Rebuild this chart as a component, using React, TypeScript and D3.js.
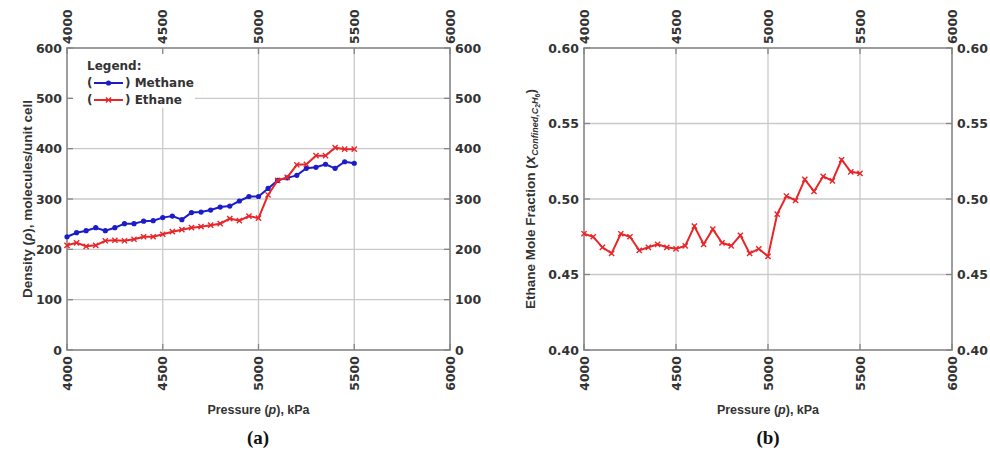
import React from 'react';
import * as d3 from 'd3';

// pressure steps, kPa
const pressure = [
  4000, 4050, 4100, 4150, 4200, 4250, 4300, 4350, 4400, 4450,
  4500, 4550, 4600, 4650, 4700, 4750, 4800, 4850, 4900, 4950,
  5000, 5050, 5100, 5150, 5200, 5250, 5300, 5350, 5400, 5450, 5500,
];

// molecules / unit cell
const methaneDensity = [
  225, 233, 237, 243, 237, 243, 251, 251, 256, 257,
  263, 266, 259, 273, 274, 278, 284, 286, 296, 305,
  305, 321, 337, 342, 347, 361, 363, 369, 361, 374, 371,
];
const ethaneDensity = [
  208, 213, 206, 208, 217, 218, 217, 220, 225, 225,
  230, 235, 239, 243, 245, 248, 251, 261, 257, 266,
  262, 308, 337, 343, 368, 369, 386, 386, 402, 399, 399,
];

// ethane mole fraction in the confined phase
const ethaneFraction = [
  0.477, 0.475, 0.468, 0.464, 0.477, 0.475, 0.466, 0.468, 0.470, 0.468,
  0.467, 0.469, 0.482, 0.470, 0.480, 0.471, 0.469, 0.476, 0.464, 0.467,
  0.462, 0.490, 0.502, 0.499, 0.513, 0.505, 0.515, 0.512, 0.526, 0.518, 0.517,
];

const xTicks = [4000, 4500, 5000, 5500, 6000];
const densityTicks = [0, 100, 200, 300, 400, 500, 600];
const fractionTicks = [0.4, 0.45, 0.5, 0.55, 0.6];

const BLUE = '#1c1cc8';
const RED = '#e8262a';
const TICK_FONT = '"DejaVu Sans", sans-serif';
const TITLE_FONT = '"Liberation Sans", Arial, sans-serif';
const TXT = '#333';

const top = 48;
const bottom = 350;

type Series = { values: number[]; color: string; marker: 'dot' | 'x' };

const Marker = ({ kind, x, y, color }: { kind: 'dot' | 'x'; x: number; y: number; color: string }) =>
  kind === 'dot' ? (
    <circle cx={x} cy={y} r={2.6} fill={color} />
  ) : (
    <path
      d={`M${x - 2.6},${y - 2.6}L${x + 2.6},${y + 2.6}M${x - 2.6},${y + 2.6}L${x + 2.6},${y - 2.6}`}
      stroke={color}
      strokeWidth={1.4}
    />
  );

const Panel = ({
  left, right, yDomain, yTicks, yFmt, series, legend,
}: {
  left: number; right: number; yDomain: [number, number]; yTicks: number[];
  yFmt: (v: number) => string; series: Series[]; legend?: boolean;
}) => {
  const x = d3.scaleLinear().domain([4000, 6000]).range([left, right]);
  const y = d3.scaleLinear().domain(yDomain).range([bottom, top]);
  const line = d3.line<number>().x((_, i) => x(pressure[i])).y((d) => y(d));
  const tickLen = 6;

  return (
    <g>
      {/* grid */}
      {xTicks.slice(1, -1).map((t) => (
        <line key={'gx' + t} x1={x(t)} x2={x(t)} y1={top} y2={bottom} stroke="#c9c9c9" strokeWidth={1.3} />
      ))}
      {yTicks.slice(1, -1).map((t) => (
        <line key={'gy' + t} x1={left} x2={right} y1={y(t)} y2={y(t)} stroke="#c9c9c9" strokeWidth={1.3} />
      ))}

      {legend && <rect x={72} y={top + 1} width={123} height={59} fill="#fff" />}

      {/* frame + inward ticks */}
      <rect x={left} y={top} width={right - left} height={bottom - top} fill="none" stroke="#858585" strokeWidth={1.6} />
      {xTicks.map((t) => (
        <g key={'tx' + t}>
          <line x1={x(t)} x2={x(t)} y1={top} y2={top + tickLen} stroke="#858585" strokeWidth={1.3} />
          <line x1={x(t)} x2={x(t)} y1={bottom} y2={bottom - tickLen} stroke="#858585" strokeWidth={1.3} />
        </g>
      ))}
      {yTicks.map((t) => (
        <g key={'ty' + t}>
          <line x1={left} x2={left + tickLen} y1={y(t)} y2={y(t)} stroke="#858585" strokeWidth={1.3} />
          <line x1={right} x2={right - tickLen} y1={y(t)} y2={y(t)} stroke="#858585" strokeWidth={1.3} />
        </g>
      ))}

      {/* tick labels */}
      <g fontFamily={TICK_FONT} fontWeight="bold" fontSize={12.5} fill={TXT}>
        {xTicks.map((t) => (
          <g key={'lx' + t}>
            <text transform={`translate(${x(t)},${top - 4}) rotate(-90)`} dy="0.36em" textAnchor="start">{t}</text>
            <text transform={`translate(${x(t)},${bottom + 6}) rotate(-90)`} dy="0.36em" textAnchor="end">{t}</text>
          </g>
        ))}
        {yTicks.map((t) => (
          <g key={'ly' + t}>
            <text x={left - 5} y={y(t)} dy="0.36em" textAnchor="end">{yFmt(t)}</text>
            <text x={right + 5} y={y(t)} dy="0.36em" textAnchor="start">{yFmt(t)}</text>
          </g>
        ))}
      </g>

      {/* data */}
      {series.map((s, k) => (
        <g key={'s' + k}>
          <path d={line(s.values) || ''} fill="none" stroke={s.color} strokeWidth={2} />
          {s.values.map((v, i) => (
            <Marker key={i} kind={s.marker} x={x(pressure[i])} y={y(v)} color={s.color} />
          ))}
        </g>
      ))}

      {/* x title */}
      <text x={(left + right) / 2} y={414} textAnchor="middle" fontFamily={TITLE_FONT} fontWeight="bold" fontSize={12.5} fill={TXT}>
        Pressure (<tspan fontStyle="italic">p</tspan>), kPa
      </text>
    </g>
  );
};

const LegendRow = ({ y, color, marker, label }: { y: number; color: string; marker: 'dot' | 'x'; label: string }) => (
  <g>
    <text x={87} y={y} dy="0.36em" fontFamily={TICK_FONT} fontWeight="bold" fontSize={12} fill={TXT}>(</text>
    <line x1={94} x2={123} y1={y} y2={y} stroke={color} strokeWidth={2} />
    <Marker kind={marker} x={108.5} y={y} color={color} />
    <text x={125} y={y} dy="0.36em" fontFamily={TICK_FONT} fontWeight="bold" fontSize={12} fill={TXT}>) {label}</text>
  </g>
);

export default function App() {
  return (
    <svg width={990} height={459} style={{ position: 'absolute', left: 0, top: 0, background: '#fff' }}>
      <rect width={990} height={459} fill="#fff" />

      <Panel
        left={67}
        right={450}
        yDomain={[0, 600]}
        yTicks={densityTicks}
        yFmt={(v) => String(v)}
        series={[
          { values: methaneDensity, color: BLUE, marker: 'dot' },
          { values: ethaneDensity, color: RED, marker: 'x' },
        ]}
        legend
      />
      <text x={87} y={66} dy="0.36em" fontFamily={TICK_FONT} fontWeight="bold" fontSize={12} fill={TXT}>Legend:</text>
      <LegendRow y={83} color={BLUE} marker="dot" label="Methane" />
      <LegendRow y={100} color={RED} marker="x" label="Ethane" />

      <text transform="translate(32,199) rotate(-90)" textAnchor="middle" fontFamily={TITLE_FONT} fontWeight="bold" fontSize={13.5} fill={TXT}>
        Density (<tspan fontStyle="italic">ρ</tspan>), molecules/unit cell
      </text>

      <Panel
        left={584}
        right={952}
        yDomain={[0.4, 0.6]}
        yTicks={fractionTicks}
        yFmt={(v) => d3.format('.2f')(v)}
        series={[{ values: ethaneFraction, color: RED, marker: 'x' }]}
      />
      <text transform="translate(535,199) rotate(-90)" textAnchor="middle" fontFamily={TITLE_FONT} fontWeight="bold" fontSize={13.5} fill={TXT}>
        Ethane Mole Fraction (<tspan fontStyle="italic" fontSize={15}>x</tspan>
        <tspan fontStyle="italic" fontSize={9} dy={3}>Confined,C</tspan>
        <tspan fontSize={7} dy={2}>2</tspan>
        <tspan fontStyle="italic" fontSize={9} dy={-2}>H</tspan>
        <tspan fontSize={7} dy={2}>6</tspan>
        <tspan dy={-5}>)</tspan>
      </text>

      <g fontFamily='"Liberation Serif", "Times New Roman", serif' fontWeight="bold" fontSize={19} fill="#111" textAnchor="middle">
        <text x={258} y={444}>(a)</text>
        <text x={768} y={444}>(b)</text>
      </g>
    </svg>
  );
}
